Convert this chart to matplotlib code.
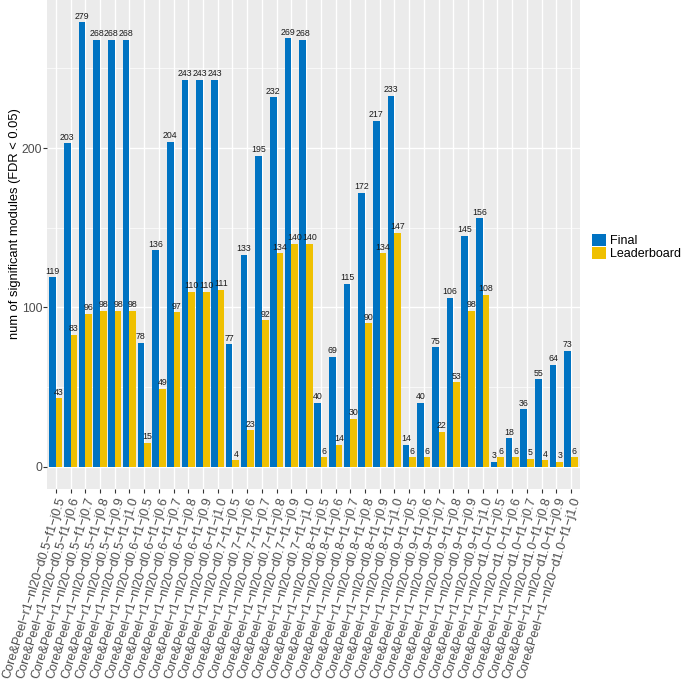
import numpy as np
import matplotlib
matplotlib.use('Agg')
import matplotlib.pyplot as plt

plt.rcParams['font.family'] = ['Liberation Sans', 'DejaVu Sans']

d_values = ['0.5', '0.6', '0.7', '0.8', '0.9', '1.0']
j_values = ['0.5', '0.6', '0.7', '0.8', '0.9', '1.0']
categories = [f'Core&Peel\u2212r1\u2212nl20\u2212d{d}\u2212f1\u2212j{j}'
              for d in d_values for j in j_values]

final = [119, 203, 279, 268, 268, 268,
         78, 136, 204, 243, 243, 243,
         77, 133, 195, 232, 269, 268,
         40, 69, 115, 172, 217, 233,
         14, 40, 75, 106, 145, 156,
         3, 18, 36, 55, 64, 73]
leaderboard = [43, 83, 96, 98, 98, 98,
               15, 49, 97, 110, 110, 111,
               4, 23, 92, 134, 140, 140,
               6, 14, 30, 90, 134, 147,
               6, 6, 22, 53, 98, 108,
               6, 6, 5, 4, 3, 6]

series = {'Final': (final, '#0073C2'), 'Leaderboard': (leaderboard, '#EFC000')}

fig = plt.figure(figsize=(6.85, 6.84), dpi=100)
ax = fig.add_axes([0.0686, 0.285, 0.778, 0.715])
ax.set_facecolor('#EBEBEB')

x = np.arange(len(categories))
w = 0.45
for i, (name, (vals, col)) in enumerate(series.items()):
    pos = x + (i - 0.5) * w
    ax.bar(pos, vals, width=w, color=col, label=name, zorder=3)
    for px, v in zip(pos, vals):
        ax.text(px, v + 1, str(v), ha='center', va='bottom', fontsize=6.3,
                color='#1a1a1a', zorder=4)

ymax = max(final)
ax.set_ylim(-0.05 * ymax, 1.05 * ymax)
ax.set_xlim(-0.6, len(categories) - 0.4)
ax.set_yticks([0, 100, 200])
ax.set_yticks([50, 150, 250], minor=True)
ax.set_xticks(x)
ax.set_xticklabels(categories, rotation=73, ha='right', rotation_mode='anchor',
                   fontsize=9.1, color='#4D4D4D')
ax.tick_params(axis='y', labelsize=8.8, labelcolor='#4D4D4D', color='#333333',
               length=3, width=0.8, pad=0.5)
ax.tick_params(axis='y', which='minor', length=0)
ax.tick_params(axis='x', color='#333333', length=3, width=0.8, pad=2)
ax.grid(which='major', color='white', linewidth=1.0, zorder=0)
ax.grid(which='minor', axis='y', color='white', linewidth=0.5, zorder=0)
for s in ax.spines.values():
    s.set_visible(False)
ax.set_axisbelow(True)

# y axis title
fig.text(15 / 685, 1 - 224 / 684, 'num of significant modules (FDR < 0.05)',
         rotation=90, ha='center', va='center', fontsize=9.3)

ax.legend(loc='center left', bbox_to_anchor=(1.0225, 0.495), frameon=False,
          fontsize=9, handlelength=1.12, handleheight=1.12, handletextpad=0.35,
          labelspacing=0.0, borderpad=0, borderaxespad=0)

fig.savefig('out.png', dpi=100)
